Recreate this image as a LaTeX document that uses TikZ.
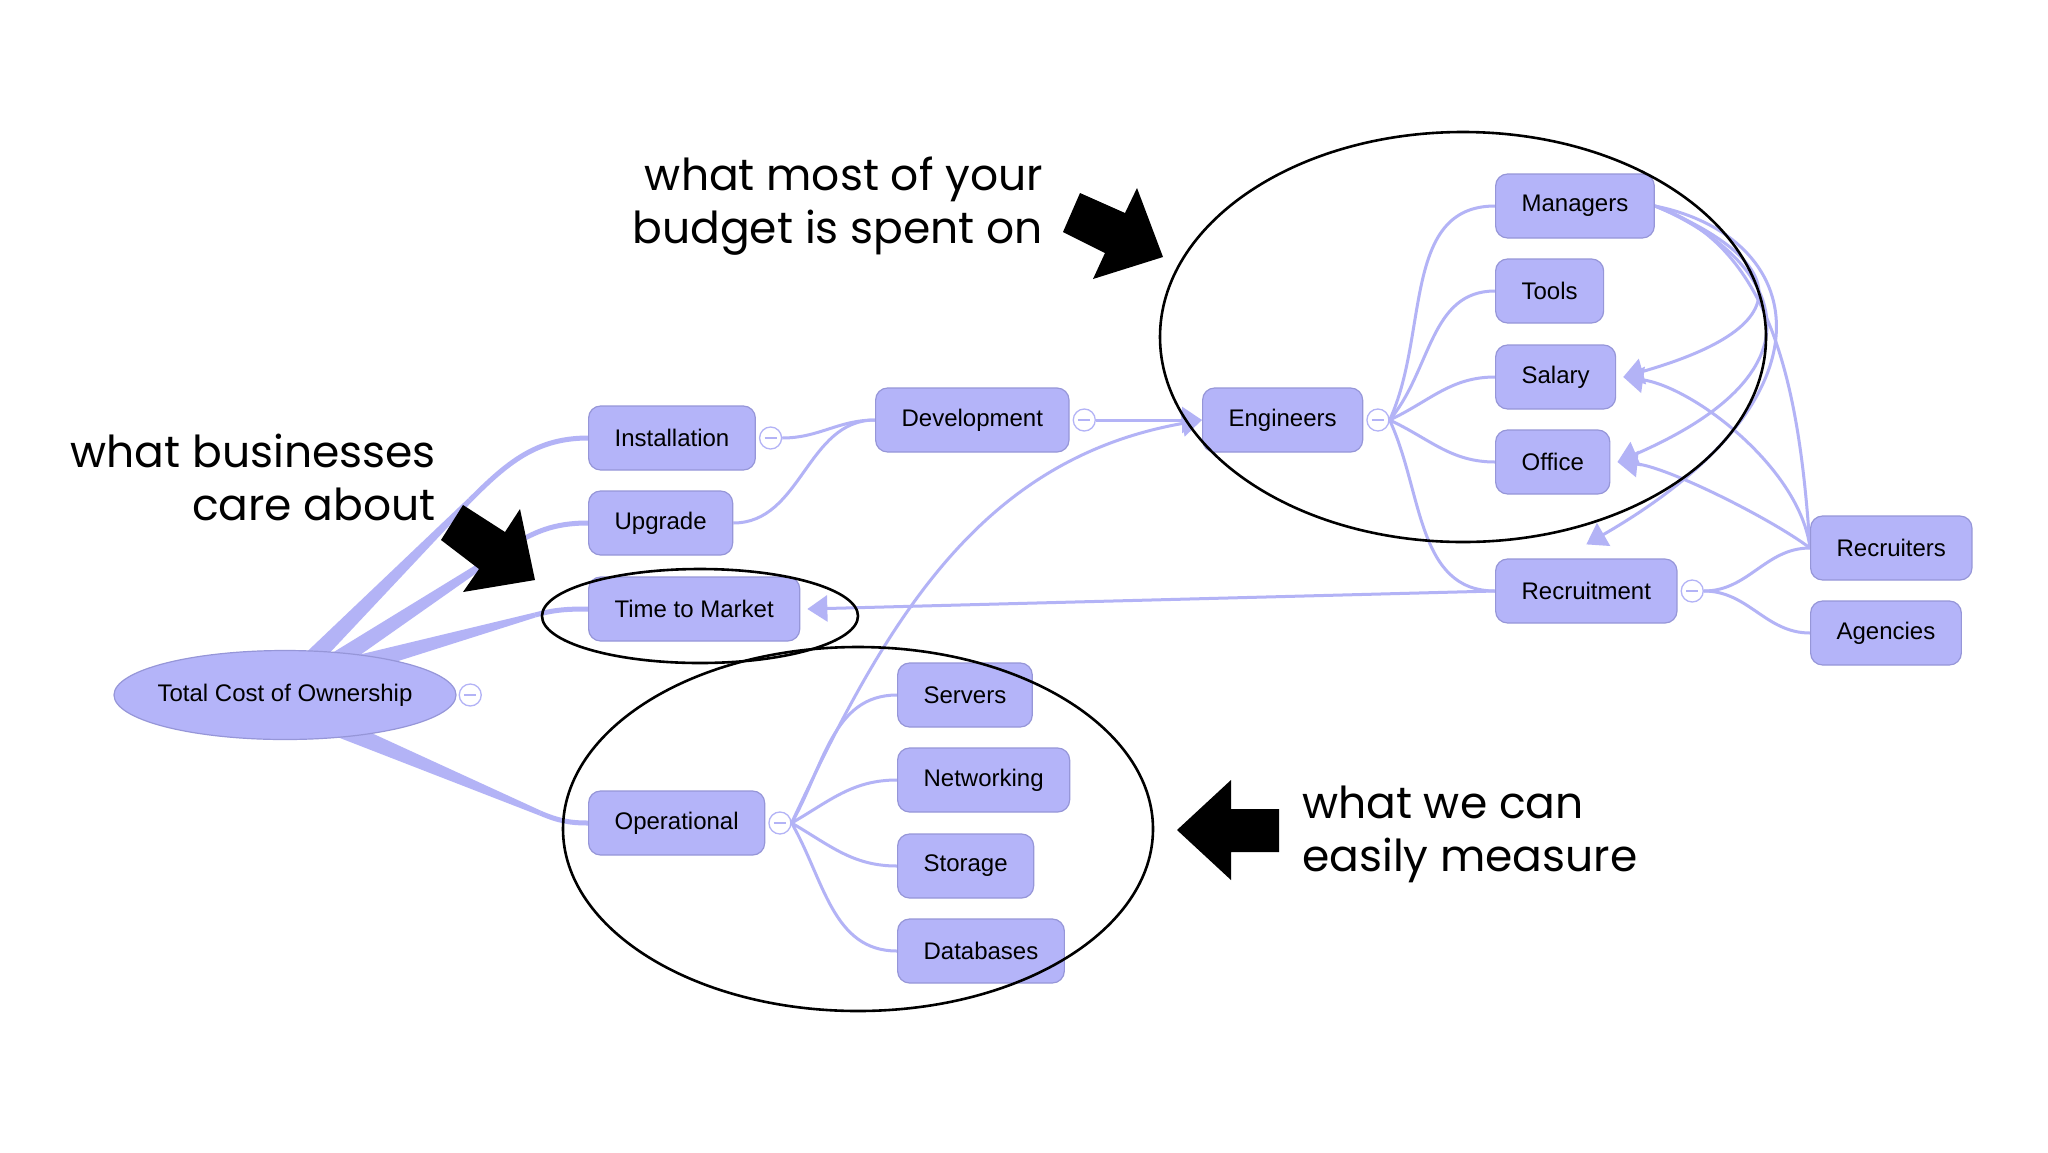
\documentclass[tikz,border=0pt]{standalone}
\usepackage{fontspec}
\setmainfont{Liberation Sans}
\newfontfamily\notefont{Poppins}
\usetikzlibrary{arrows.meta,positioning,calc,shapes.geometric}
\definecolor{mapfill}{HTML}{B4B4F9}
\definecolor{mapedge}{HTML}{9696D8}
\definecolor{maplink}{HTML}{B3B3F6}
\pgfdeclarelayer{bg}
\pgfsetlayers{bg,main}

\begin{document}
\begin{tikzpicture}[x=1pt,y=1pt,
  topic/.style={draw=mapedge,fill=mapfill,line width=1.2pt,rounded corners=12pt,minimum height=64pt,inner xsep=26pt,font=\fontsize{24}{28}\selectfont},
  central/.style={ellipse,draw=mapedge,fill=mapfill,line width=1.2pt,minimum width=342pt,minimum height=89pt,inner xsep=-7pt,inner ysep=0pt,font=\fontsize{24}{28}\selectfont},
  fold/.style={circle,draw=maplink,fill=white,line width=1.3pt,minimum size=22pt,inner sep=0pt,
    path picture={\draw[maplink,line width=1.3pt] ([xshift=-6pt]path picture bounding box.center)--([xshift=6pt]path picture bounding box.center);}},
  link/.style={maplink,line width=3pt},
  xlink/.style={link,-{Triangle[length=20pt,width=26pt]}},
  note/.style={font=\notefont\fontsize{44}{53}\selectfont,inner sep=0pt},
  loop/.style={black,line width=2.6pt}]
  \useasboundingbox (0,0) rectangle (2048,-1152);

  % mind map nodes
  \node[central] (tco) at (285,-695) {Total Cost of Ownership};
  \node[fold,right=2pt of tco] (tcoF) {};
  \node[topic,anchor=west] (inst) at (588,-438) {Installation};
  \node[topic,anchor=west] (upg) at (588,-523) {Upgrade};
  \node[topic,anchor=west] (ttm) at (588,-609) {Time to Market};
  \node[topic,anchor=west] (oper) at (588,-823) {Operational};
  \node[topic,anchor=west] (dev) at (875,-420) {Development};
  \node[topic,anchor=west] (eng) at (1202,-420) {Engineers};
  \node[topic,anchor=west] (mgr) at (1495,-206) {Managers};
  \node[topic,anchor=west] (tools) at (1495,-291) {Tools};
  \node[topic,anchor=west] (sal) at (1495,-377) {Salary};
  \node[topic,anchor=west] (office) at (1495,-462) {Office};
  \node[topic,anchor=west] (recr) at (1495,-591) {Recruitment};
  \node[topic,anchor=west] (rcrs) at (1810,-548) {Recruiters};
  \node[topic,anchor=west] (agen) at (1810,-633) {Agencies};
  \node[topic,anchor=west] (srv) at (897,-695) {Servers};
  \node[topic,anchor=west] (net) at (897,-780) {Networking};
  \node[topic,anchor=west] (stor) at (897,-866) {Storage};
  \node[topic,anchor=west] (db) at (897,-951) {Databases};
  \node[fold,right=3pt of inst] (instF) {};
  \node[fold,right=3pt of dev] (devF) {};
  \node[fold,right=3pt of eng] (engF) {};
  \node[fold,right=3pt of recr] (recrF) {};
  \node[fold,right=3pt of oper] (operF) {};

  \begin{pgfonlayer}{bg}
    \fill[white] (0,0) rectangle (2048,-1152);
    % tapered trunks out of the centre
    \foreach \sx/\sy/\bx/\by/\ang/\dest in {305/-666/470/-500/45/inst, 333/-663/505/-550/33/upg,
        359/-664/535/-615/15/ttm, 339/-728/540/-813/-23/oper} {
      \coordinate (s) at (\sx,\sy);
      \coordinate (b) at (\bx,\by);
      \fill[maplink] ($(s)!9pt!90:(b)$)--($(b)!2.5pt!-90:(s)$)--($(b)!2.5pt!90:(s)$)--($(s)!9pt!-90:(b)$)--cycle;
      \draw[link,line width=5pt] (b) to[out=\ang,in=180] (\dest.west);
    }
    \draw[link] (instF.east) to[out=0,in=180] (dev.west);
    \draw[link] (upg.east) to[out=0,in=180] (dev.west);
    \draw[xlink] (devF.east) -- (eng.west);
    \draw[xlink] (operF.east) to[out=65,in=190] (eng.west);
    \draw[link] (engF.east) to[out=65,in=180] (mgr.west);
    \draw[link] (engF.east) to[out=50,in=180] (tools.west);
    \draw[link] (engF.east) to[out=25,in=180] (sal.west);
    \draw[link] (engF.east) to[out=-25,in=180] (office.west);
    \draw[link] (engF.east) to[out=-65,in=180] (recr.west);
    \draw[xlink] (recr.west) -- ([xshift=7pt]ttm.east);
    \draw[link] (recrF.east) to[out=0,in=180] (rcrs.west);
    \draw[link] (recrF.east) to[out=0,in=180] (agen.west);
    \draw[link] (operF.east) to[out=60,in=180] (srv.west);
    \draw[link] (operF.east) to[out=30,in=180] (net.west);
    \draw[link] (operF.east) to[out=-30,in=180] (stor.west);
    \draw[link] (operF.east) to[out=-60,in=180] (db.west);
    % cross links
    \draw[xlink] (mgr.east) .. controls +(100,-40) and +(210,60) .. ([xshift=7pt]sal.east);
    \draw[xlink] (mgr.east) .. controls +(110,-45) and +(230,100) .. ([xshift=7pt]office.east);
    \draw[xlink] (mgr.east) .. controls +(150,-30) and +(260,150) .. ([yshift=14pt]recr.north);
    \draw[link] (mgr.east) .. controls +(120,-40) and +(-10,150) .. (rcrs.west);
    \draw[xlink] (rcrs.west) .. controls +(-10,80) and +(70,-10) .. ([xshift=7pt]sal.east);
    \draw[xlink] (rcrs.west) .. controls +(-40,30) and +(50,-5) .. ([xshift=7pt]office.east);
  \end{pgfonlayer}

  % hand drawn rings
  \draw[loop] (1463,-337) ellipse (303 and 205);
  \draw[loop] (700,-616) ellipse (158 and 47);
  \draw[loop] (858,-829) ellipse (295 and 182);

  % pointers
  \fill (1080,-193)--(1125,-213)--(1137,-188)--(1163,-257)--(1093,-279)--(1105,-253)--(1063,-232)--cycle;
  \fill (463,-505)--(505,-532)--(520,-509)--(535,-580)--(463,-592)--(479,-569)--(441,-540)--cycle;
  \fill (1177,-830)--(1231,-780)--(1231,-809)--(1279,-809)--(1279,-852)--(1231,-852)--(1231,-880)--cycle;

  \node[note,align=right,anchor=base east] (noteBiz) at (436,-520) {what businesses\\care about};
  \node[note,align=right,anchor=base east] (noteBudget) at (1043,-243) {what most of your\\budget is spent on};
  \node[note,align=left,anchor=base west] (noteMeasure) at (1302,-871) {what we can\\easily measure};
\end{tikzpicture}
\end{document}
